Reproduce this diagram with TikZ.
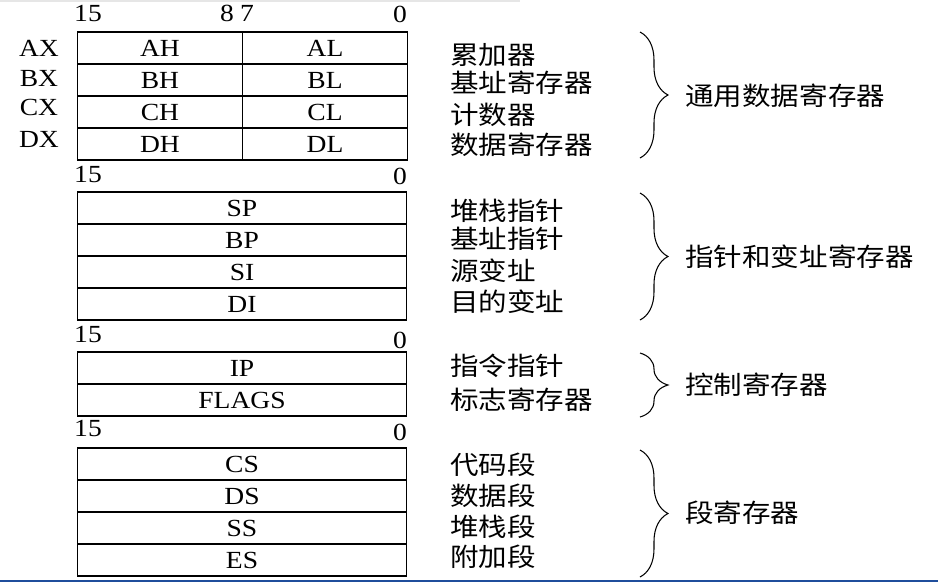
\documentclass[tikz,border=0pt]{standalone}
\usepackage{fontspec}
\setmainfont[FakeStretch=1.12]{Liberation Serif}
\newfontfamily\cjk[FakeStretch=1.12]{Noto Sans CJK SC}
\usetikzlibrary{decorations.pathreplacing}
\definecolor{slideblue}{RGB}{31,78,156}
\definecolor{rulegray}{RGB}{230,230,230}
\tikzset{
  reg/.style={draw, line width=0.6pt, minimum width=6.6cm, minimum height=0.64cm, inner sep=0pt, font=\fontsize{14}{16}\selectfont},
  halfreg/.style={reg, minimum width=3.3cm},
  bitnum/.style={inner sep=0pt, font=\fontsize{14}{16}\selectfont},
  desc/.style={anchor=west, inner sep=0pt, font=\cjk\fontsize{14.5}{16}\selectfont},
  groupbrace/.style={decorate, decoration={brace, amplitude=0.56cm}, line width=0.6pt}
}

\begin{document}
\begin{tikzpicture}[x=0.02cm, y=-0.02cm]
\useasboundingbox (0,0) rectangle (938,583);
\draw[rulegray, line width=0.8pt] (0,1) -- (520,1);
\draw[slideblue, line width=1.6pt] (0,581) -- (938,581);

% general registers
\node[bitnum] (b15a) at (88,13) {15};
\node[bitnum] (b8) at (227,13) {8};
\node[bitnum] (b7) at (247,13) {7};
\node[bitnum] (b0a) at (400,14) {0};

\node[bitnum] (ax) at (39,48) {AX};
\node[bitnum] (bx) at (39,78) {BX};
\node[bitnum] (cx) at (39,107) {CX};
\node[bitnum] (dx) at (39,139) {DX};

\node[halfreg] (ah) at (160,48) {AH};
\node[halfreg] (al) at (325,48) {AL};
\node[halfreg] (bh) at (160,80) {BH};
\node[halfreg] (bl) at (325,80) {BL};
\node[halfreg] (ch) at (160,112) {CH};
\node[halfreg] (cl) at (325,112) {CL};
\node[halfreg] (dh) at (160,144) {DH};
\node[halfreg] (dl) at (325,144) {DL};

\node[desc] (acc) at (450,55) {累加器};
\node[desc] (base) at (450,83) {基址寄存器};
\node[desc] (cnt) at (450,115) {计数器};
\node[desc] (data) at (450,145) {数据寄存器};

\coordinate (g1top) at (640,32);
\coordinate (g1bot) at (640,158);
\draw[groupbrace] (g1top) -- (g1bot);
\node[desc] (g1) at (685,96) {通用数据寄存器};

% pointer and index registers
\node[bitnum] (b15b) at (88,174) {15};
\node[bitnum] (b0b) at (400,176) {0};

\node[reg] (sp) at (242,208) {SP};
\node[reg] (bp) at (242,240) {BP};
\node[reg] (si) at (242,272) {SI};
\node[reg] (di) at (242,304) {DI};

\node[desc] (stackptr) at (450,211) {堆栈指针};
\node[desc] (baseptr) at (450,239) {基址指针};
\node[desc] (srcidx) at (450,271) {源变址};
\node[desc] (dstidx) at (450,302) {目的变址};

\coordinate (g2top) at (640,193);
\coordinate (g2bot) at (640,320);
\draw[groupbrace] (g2top) -- (g2bot);
\node[desc] (g2) at (685,257) {指针和变址寄存器};

% control registers
\node[bitnum] (b15c) at (88,334) {15};
\node[bitnum] (b0c) at (400,340) {0};

\node[reg] (ip) at (242,368) {IP};
\node[reg] (flags) at (242,400) {FLAGS};

\node[desc] (insptr) at (450,366) {指令指针};
\node[desc] (flagreg) at (450,400) {标志寄存器};

\coordinate (g3top) at (640,353);
\coordinate (g3bot) at (640,417);
\draw[groupbrace] (g3top) -- (g3bot);
\node[desc] (g3) at (685,385) {控制寄存器};

% segment registers
\node[bitnum] (b15d) at (88,428) {15};
\node[bitnum] (b0d) at (400,432) {0};

\node[reg] (cs) at (242,464) {CS};
\node[reg] (ds) at (242,496) {DS};
\node[reg] (ss) at (242,528) {SS};
\node[reg] (es) at (242,560) {ES};

\node[desc] (codeseg) at (450,465) {代码段};
\node[desc] (dataseg) at (450,496) {数据段};
\node[desc] (stackseg) at (450,527) {堆栈段};
\node[desc] (extraseg) at (450,557) {附加段};

\coordinate (g4top) at (640,450);
\coordinate (g4bot) at (640,577);
\draw[groupbrace] (g4top) -- (g4bot);
\node[desc] (g4) at (685,513) {段寄存器};
\end{tikzpicture}
\end{document}
